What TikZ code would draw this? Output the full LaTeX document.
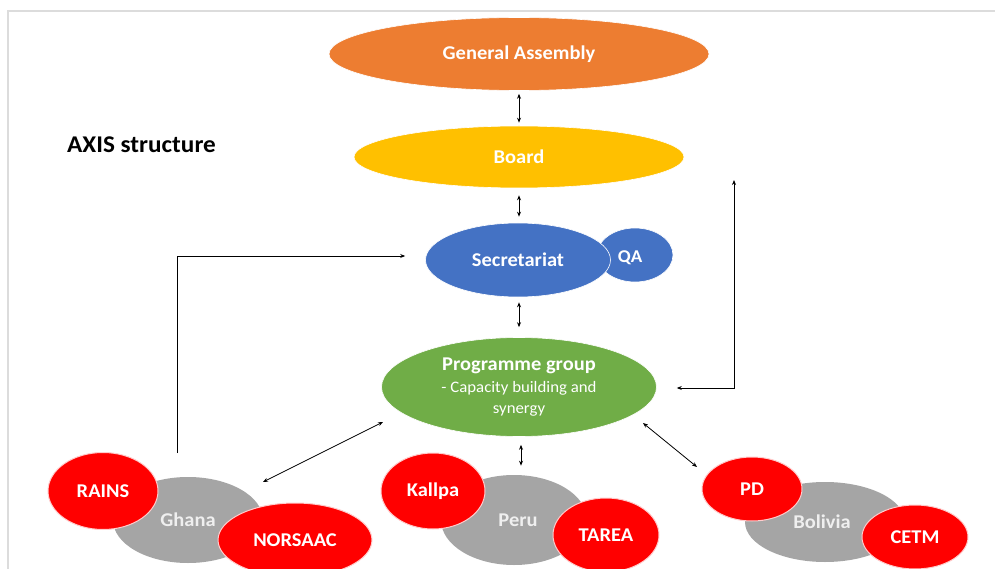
\documentclass[tikz,border=0pt]{standalone}
\usepackage{fontspec}
\setmainfont{Carlito}[FakeStretch=1.05]
\usetikzlibrary{shapes.geometric,arrows.meta,calc}
\definecolor{gaorange}{HTML}{ED7D31}
\definecolor{boardyellow}{HTML}{FFC000}
\definecolor{secblue}{HTML}{4472C4}
\definecolor{pggreen}{HTML}{70AD47}
\definecolor{countrygray}{HTML}{A5A5A5}
\definecolor{partnerred}{HTML}{FF0000}
\definecolor{framegray}{HTML}{DCDCDC}
\definecolor{graytext}{HTML}{EFEFEF}
\tikzset{
  oval/.style={ellipse, inner sep=0pt, draw=white, line width=0.6pt, text=white, font=\bfseries\fontsize{19.5}{21}\selectfont},
  partner/.style={oval, fill=partnerred, draw=white!80!partnerred, line width=1pt},
  country/.style={oval, fill=countrygray, draw=none, text=graytext},
  arr/.style={-{Stealth[length=5pt,width=4pt]}, line width=0.8pt, black},
  arrtwo/.style={{Stealth[length=5pt,width=4pt]}-{Stealth[length=5pt,width=4pt]}, line width=0.8pt, black},
}
\begin{document}
\begin{tikzpicture}[x=1pt,y=-1pt]
\useasboundingbox (0,0) rectangle (995,569);
\fill[white] (0,0) rectangle (995,569);
% frame
\draw[framegray, line width=1.5pt] (8,569) -- (8,11) -- (995,11);

% title
\node[anchor=west, inner sep=0pt, font=\bfseries\fontsize{24}{26}\selectfont] (title) at (67,145) {AXIS structure};

% top hierarchy
\node[oval, fill=gaorange, minimum width=380pt, minimum height=73pt] (ga) at (519,54) {General Assembly};
\node[oval, fill=boardyellow, minimum width=330pt, minimum height=62pt] (board) at (519,157) {Board};
\node[oval, fill=secblue, minimum width=76pt, minimum height=54pt, font=\bfseries\fontsize{18}{19}\selectfont] (qa) at (635,255) {\hspace*{-10pt}\raisebox{-7pt}[0pt][0pt]{QA}};
\node[oval, fill=secblue, minimum width=185pt, minimum height=74pt] (sec) at (518,260) {Secretariat};
\node[oval, fill=pggreen, minimum width=275pt, minimum height=99pt, align=center] (pg) at (519,387)
  {Programme group\\[1pt]{\mdseries\fontsize{16}{19}\selectfont - Capacity building and}\\[0pt]{\mdseries\fontsize{16}{19}\selectfont synergy}};

% Ghana
\node[country, minimum width=150pt, minimum height=86pt] (ghana) at (188,520) {Ghana};
\node[partner, minimum width=110pt, minimum height=77pt] (rains) at (103,491) {RAINS};
\node[partner, minimum width=154pt, minimum height=74pt] (norsaac) at (295,540) {NORSAAC};

% Peru
\node[country, minimum width=146pt, minimum height=90pt] (peru) at (514,520) {\hspace*{8pt}Peru};
\node[partner, minimum width=104pt, minimum height=76pt] (kallpa) at (433,491) {Kallpa};
\node[partner, minimum width=106pt, minimum height=74pt] (tarea) at (606,535) {TAREA};

% Bolivia
\node[country, minimum width=160pt, minimum height=80pt] (bolivia) at (825,522) {\hspace*{-6pt}Bolivia};
\node[partner, minimum width=100pt, minimum height=64pt] (pd) at (752,489) {PD};
\node[partner, minimum width=106pt, minimum height=64pt] (cetm) at (915,537) {CETM};

% vertical connectors
\draw[arrtwo] ($(ga.south)+(0,3)$) -- ($(board.north)+(0,-3)$);
\draw[arrtwo] ($(board.south)+(0,7)$) -- ($(sec.north -| board.south)+(0,-6)$);
\draw[arrtwo] ($(sec.south -| pg.north)+(0,5)$) -- ($(pg.north)+(0,-10)$);
\draw[arrtwo] ($(pg.south)+(2,8)$) -- ($(peru.north -| pg.south)+(2,-9)$);

% side connectors
\coordinate (gfoot) at (177,453);
\draw[arr] (gfoot) |- ($(sec.west)+(-20,-4)$);
\coordinate (rtop) at (734,180);
\draw[arrtwo] ($(pg.east)+(20,1)$) -| (rtop);

% diagonal connectors
\draw[arrtwo] ($(pg.center)+(-136,35)$) -- ($(ghana.center)+(75,-38)$);
\draw[arrtwo] ($(pg.center)+(124,36)$) -- ($(pd.center)+(-55,-22)$);
\end{tikzpicture}
\end{document}
